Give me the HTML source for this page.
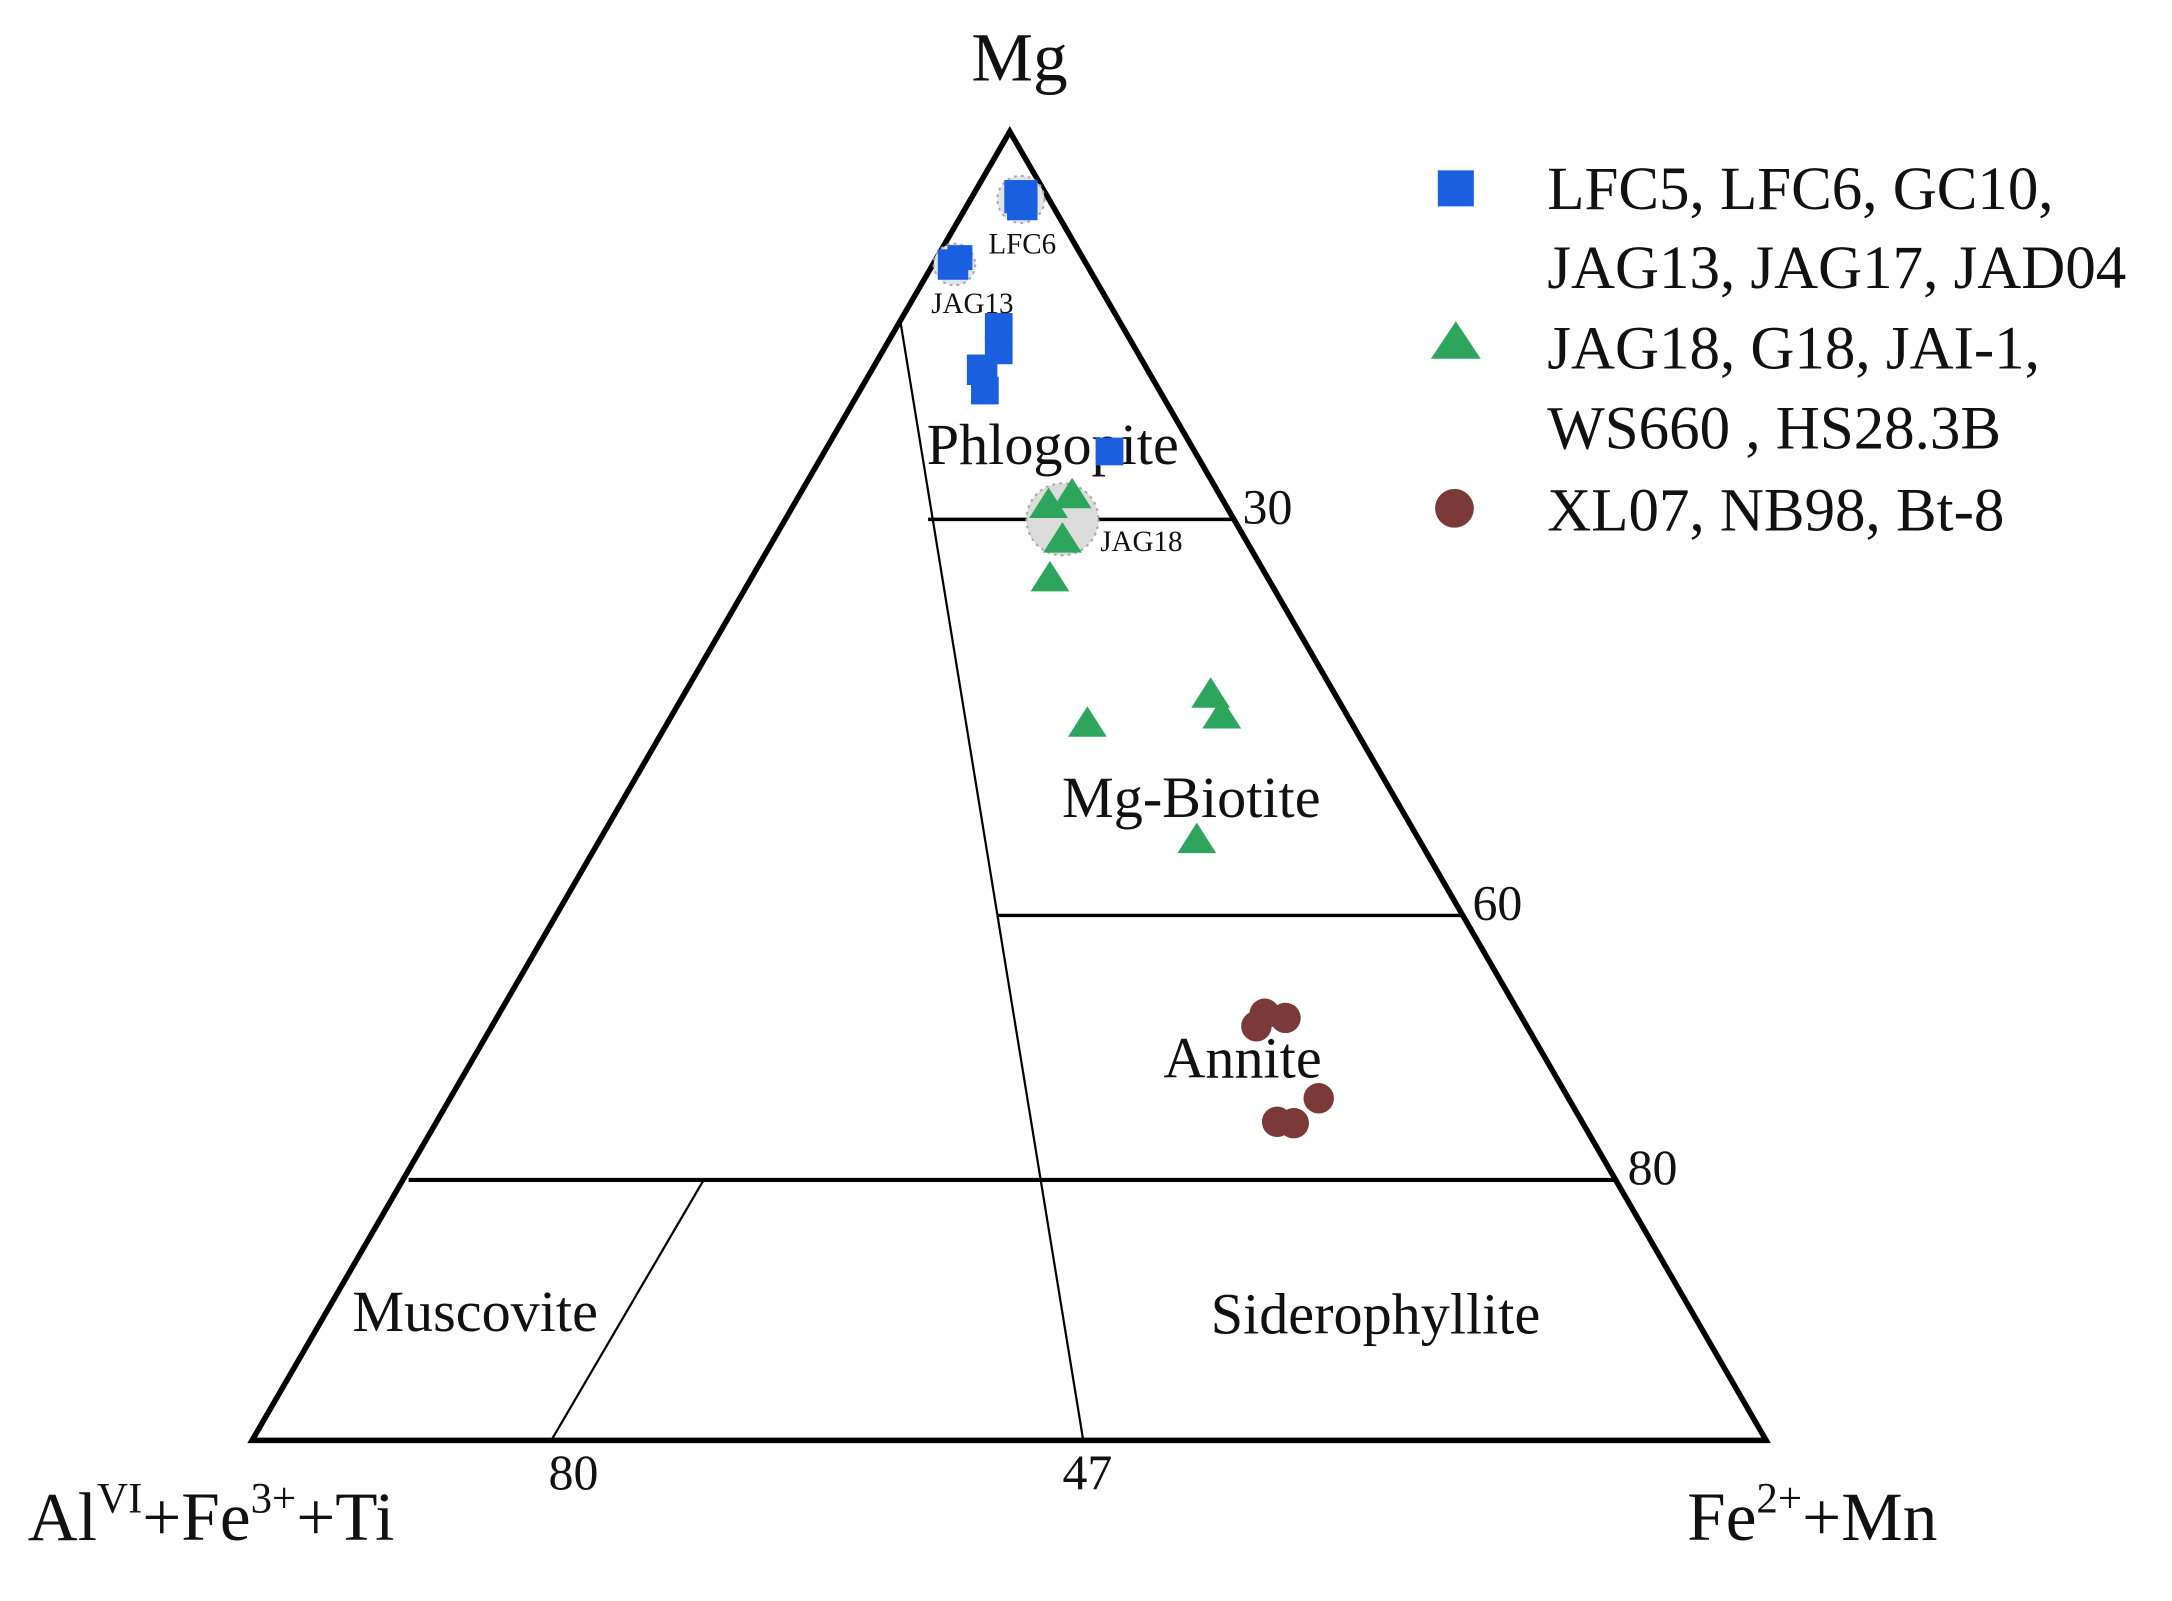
<!DOCTYPE html>
<html><head><meta charset="utf-8"><style>
html,body{margin:0;padding:0;background:#fff;}
svg{display:block;}
text{font-family:"Liberation Serif",serif;fill:#111;}
</style></head><body>
<svg width="2172" height="1601" viewBox="0 0 1568 1156" preserveAspectRatio="none" xmlns="http://www.w3.org/2000/svg">
<rect width="1568" height="1156" fill="#fff"/>
<polygon points="729,95 182,1040 1275,1040" fill="none" stroke="#000" stroke-width="4" stroke-linejoin="miter"/>
<line x1="670" y1="375" x2="890" y2="375" stroke="#000" stroke-width="2.5"/>
<line x1="720" y1="661" x2="1057" y2="661" stroke="#000" stroke-width="2.5"/>
<line x1="295" y1="852" x2="1167" y2="852" stroke="#000" stroke-width="3"/>
<line x1="650" y1="232" x2="782" y2="1040" stroke="#000" stroke-width="1.6"/>
<line x1="508" y1="852" x2="398" y2="1040" stroke="#000" stroke-width="1.6"/>
<text x="736" y="58" font-size="50" text-anchor="middle">Mg</text>
<text x="20" y="1112" font-size="50">Al<tspan font-size="31" dy="-20">VI</tspan><tspan dy="20">+Fe</tspan><tspan font-size="31" dy="-20">3+</tspan><tspan dy="20">+Ti</tspan></text>
<text x="1218" y="1112" font-size="50">Fe<tspan font-size="31" dy="-20">2+</tspan><tspan dy="20">+Mn</tspan></text>
<text x="897" y="378" font-size="36">30</text>
<text x="1063" y="664" font-size="36">60</text>
<text x="1175" y="855" font-size="36">80</text>
<text x="414" y="1075" font-size="36" text-anchor="middle">80</text>
<text x="785" y="1075" font-size="36" text-anchor="middle">47</text>
<text x="760" y="335" font-size="42" text-anchor="middle">Phlogopite</text>
<text x="860" y="590" font-size="42" text-anchor="middle">Mg-Biotite</text>
<text x="897" y="778" font-size="42" text-anchor="middle">Annite</text>
<text x="343" y="961" font-size="42" text-anchor="middle">Muscovite</text>
<text x="993" y="963" font-size="42" text-anchor="middle">Siderophyllite</text>
<circle cx="737" cy="144" r="17" fill="#e4e4e8" stroke="#aaa" stroke-width="1.5" stroke-dasharray="2,3"/>
<circle cx="689" cy="191" r="15" fill="#e4e4e8" stroke="#aaa" stroke-width="1.5" stroke-dasharray="2,3"/>
<circle cx="767" cy="375" r="26" fill="#dcdcdc" stroke="#aaa" stroke-width="1.5" stroke-dasharray="2,3"/>
<g fill="#1a5fe0">
<rect x="725" y="130" width="24" height="24"/><rect x="727" y="137" width="22" height="22"/>
<rect x="677" y="180" width="22" height="22"/><rect x="684" y="177" width="18" height="18"/>
<rect x="711" y="226" width="20" height="20"/><rect x="711" y="243" width="20" height="20"/>
<rect x="698" y="256" width="22" height="22"/><rect x="701" y="272" width="20" height="20"/>
<rect x="791" y="316" width="20" height="20"/>
</g>
<text x="738" y="183" font-size="21" text-anchor="middle">LFC6</text>
<text x="702" y="226" font-size="21" text-anchor="middle">JAG13</text>
<text x="824" y="398" font-size="21" text-anchor="middle">JAG18</text>
<g fill="#2ea55c">
<polygon points="757,352 743,374 771,374"/>
<polygon points="774,345 760,367 788,367"/>
<polygon points="767,377 753,399 781,399"/>
<polygon points="758,405 744,427 772,427"/>
<polygon points="785,510 771,532 799,532"/>
<polygon points="874,489 860,511 888,511"/>
<polygon points="882,504 868,526 896,526"/>
<polygon points="864,594 850,616 878,616"/>
</g>
<g fill="#7b3a3a">
<circle cx="913" cy="732" r="11"/><circle cx="928" cy="735" r="11"/><circle cx="907" cy="741" r="11"/>
<circle cx="952" cy="793" r="11"/><circle cx="922" cy="810" r="11"/><circle cx="934" cy="811" r="11"/>
</g>
<rect x="1038" y="123" width="26" height="26" fill="#1a5fe0"/>
<polygon points="1051,232 1033,259 1069,259" fill="#2ea55c"/>
<circle cx="1050" cy="367" r="14" fill="#7b3a3a"/>
<g font-size="44">
<text x="1117" y="151">LFC5, LFC6, GC10,</text>
<text x="1117" y="208">JAG13, JAG17, JAD04</text>
<text x="1117" y="266">JAG18, G18, JAI-1,</text>
<text x="1117" y="324">WS660  , HS28.3B</text>
<text x="1117" y="383">XL07, NB98, Bt-8</text>
</g>
</svg>
</body></html>
